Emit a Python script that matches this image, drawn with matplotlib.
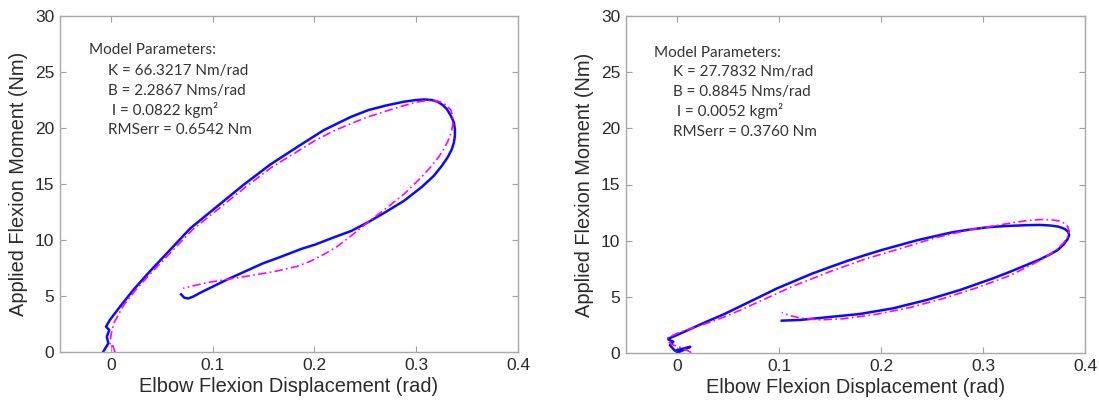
import matplotlib
matplotlib.use("Agg")
import matplotlib.pyplot as plt

# ---- Left subject: measured (blue) and model (magenta) moment-displacement loops ----
left_meas_x = [-0.0075, -0.0025, -0.004, -0.0016, -0.0048, -0.001, 0.009, 0.022, 0.038, 0.058,
               0.078, 0.104, 0.130, 0.156, 0.183, 0.209, 0.236, 0.253, 0.270, 0.288,
               0.300, 0.308, 0.315, 0.321, 0.326, 0.330, 0.334, 0.337, 0.338, 0.338,
               0.337, 0.335, 0.331, 0.325, 0.317, 0.305, 0.288, 0.270, 0.253, 0.236,
               0.218, 0.201, 0.187, 0.167, 0.149, 0.132, 0.115, 0.097, 0.088, 0.081,
               0.076, 0.072, 0.069]
left_meas_y = [0.03, 0.77, 1.37, 1.96, 2.26, 2.86, 4.05, 5.54, 7.17, 9.1,
               11.04, 12.97, 14.9, 16.7, 18.3, 19.8, 21.0, 21.6, 22.0, 22.35,
               22.5, 22.55, 22.5, 22.35, 22.05, 21.7, 21.1, 20.5, 19.9, 19.3,
               18.7, 18.1, 17.4, 16.6, 15.7, 14.7, 13.5, 12.5, 11.6, 10.8,
               10.2, 9.6, 9.2, 8.5, 7.9, 7.2, 6.5, 5.7, 5.3, 4.95,
               4.78, 4.85, 5.15]

left_model_x = [0.004, 0.002, -0.001, 0.000, 0.003, 0.012, 0.024, 0.040, 0.060, 0.080,
                0.106, 0.132, 0.158, 0.185, 0.201, 0.218, 0.236, 0.253, 0.270, 0.288,
                0.300, 0.310, 0.318, 0.325, 0.330, 0.334, 0.336, 0.336, 0.334, 0.331,
                0.327, 0.322, 0.314, 0.305, 0.288, 0.270, 0.250, 0.235, 0.222, 0.209,
                0.196, 0.183, 0.160, 0.127, 0.094, 0.071]
left_model_y = [0.0, 0.55, 0.5, 1.5, 2.6, 4.1, 5.5, 7.1, 9.0, 10.9,
                12.8, 14.7, 16.5, 18.0, 18.9, 19.7, 20.4, 21.0, 21.5, 22.0,
                22.3, 22.45, 22.45, 22.3, 22.0, 21.6, 21.0, 20.3, 19.5, 18.8,
                18.1, 17.4, 16.5, 15.6, 14.1, 12.8, 11.4, 10.3, 9.4, 8.7,
                8.1, 7.65, 7.17, 6.67, 6.19, 5.69]

# ---- Right subject ----
right_meas_x = [0.000, 0.013, 0.004, -0.002, -0.007, -0.0036, -0.0085, -0.008, 0.000, 0.011,
                0.028, 0.046, 0.063, 0.080, 0.098, 0.115, 0.132, 0.150, 0.167, 0.184,
                0.200, 0.218, 0.236, 0.253, 0.270, 0.288, 0.305, 0.322, 0.343, 0.356,
                0.366, 0.374, 0.380, 0.3835, 0.3845, 0.383, 0.379, 0.373, 0.364, 0.355,
                0.343, 0.327, 0.310, 0.2775, 0.2448, 0.212, 0.179, 0.1468, 0.1206, 0.1027]
right_meas_y = [0.0, 0.55, 0.35, 0.2, 0.7, 1.0, 1.2, 1.3, 1.6, 2.05,
                2.75, 3.45, 4.2, 4.95, 5.75, 6.4, 7.05, 7.65, 8.2, 8.7,
                9.15, 9.6, 10.05, 10.4, 10.75, 11.0, 11.2, 11.3, 11.38, 11.4,
                11.35, 11.25, 11.05, 10.8, 10.5, 10.15, 9.65, 9.15, 8.7, 8.3,
                7.85, 7.25, 6.65, 5.61, 4.72, 3.98, 3.47, 3.18, 2.94, 2.88]

right_model_x = [0.014, 0.005, -0.005, -0.0085, -0.009, 0.000, 0.011, 0.028, 0.046, 0.063,
                 0.080, 0.098, 0.115, 0.132, 0.150, 0.184, 0.219, 0.253, 0.288, 0.310,
                 0.329, 0.343, 0.356, 0.367, 0.375, 0.380, 0.383, 0.3845, 0.383, 0.379,
                 0.372, 0.364, 0.356, 0.3265, 0.2938, 0.261, 0.2284, 0.1958, 0.163, 0.140,
                 0.122, 0.110, 0.1027]
right_model_y = [0.05, 0.45, 0.75, 1.0, 1.35, 1.75, 2.1, 2.6, 3.2, 3.85,
                 4.55, 5.3, 6.0, 6.6, 7.25, 8.35, 9.3, 10.25, 11.0, 11.3,
                 11.6, 11.78, 11.88, 11.86, 11.75, 11.55, 11.25, 10.85, 10.35, 9.8,
                 9.2, 8.7, 8.25, 6.9, 5.8, 4.85, 4.05, 3.45, 3.05, 2.95,
                 3.1, 3.35, 3.6]

left_params = ["Model Parameters:", "K = 66.3217 Nm/rad", "B = 2.2867 Nms/rad",
               " I = 0.0822 kgm\u00b2", "RMSerr = 0.6542 Nm"]
right_params = ["Model Parameters:", "K = 27.7832 Nm/rad", "B = 0.8845 Nms/rad",
                " I = 0.0052 kgm\u00b2", "RMSerr = 0.3760 Nm"]

x_ticks = [0, 0.1, 0.2, 0.3, 0.4]
x_tick_labels = ["0", "0.1", "0.2", "0.3", "0.4"]
y_ticks = [0, 5, 10, 15, 20, 25, 30]

plt.rcParams["font.family"] = ["Liberation Sans", "DejaVu Sans"]

fig = plt.figure(figsize=(10.99, 4.0), dpi=100)
ax_l = fig.add_axes([60 / 1099, 1 - 352 / 400, 458 / 1099, 336 / 400])
ax_r = fig.add_axes([626 / 1099, 1 - 353 / 400, 459 / 1099, 337 / 400])

panels = [
    (ax_l, left_meas_x, left_meas_y, left_model_x, left_model_y, left_params,
     (0.063, 0.105), [0.899, 0.836, 0.777, 0.720, 0.661]),
    (ax_r, right_meas_x, right_meas_y, right_model_x, right_model_y, right_params,
     (0.061, 0.102), [0.890, 0.834, 0.774, 0.718, 0.656]),
]

for ax, mx, my, px, py, params, (x0, x1), ys in panels:
    ax.plot(mx, my, color="#0a0aff", lw=1.8, solid_joinstyle="round", zorder=2)
    ax.plot(px, py, color="#ff00ff", lw=1.2, linestyle=(0, (5, 2, 1, 2)), zorder=3)
    ax.set_xlim(-0.05, 0.4)
    ax.set_ylim(0, 30)
    ax.set_xticks(x_ticks)
    ax.set_xticklabels(x_tick_labels)
    ax.set_yticks(y_ticks)
    ax.tick_params(direction="in", top=True, right=True, length=4, width=0.8,
                   color="#a0a0a0", labelsize=12.5, labelcolor="#2a2a2a", pad=4)
    for sp in ax.spines.values():
        sp.set_color("#a8a8a8")
        sp.set_linewidth(1.0)
    ax.set_xlabel("Elbow Flexion Displacement (rad)", fontsize=14.4, color="#2a2a2a", labelpad=3)
    ax.set_ylabel("Applied Flexion Moment (Nm)", fontsize=14.4, color="#2a2a2a", labelpad=5)
    for i, (txt, yy) in enumerate(zip(params, ys)):
        ax.text(x0 if i == 0 else x1, yy, txt, transform=ax.transAxes, ha="left", va="center",
                fontsize=11, color="#333333", family=["Lato", "DejaVu Sans"])

fig.savefig("out.png", dpi=100, facecolor="white")
